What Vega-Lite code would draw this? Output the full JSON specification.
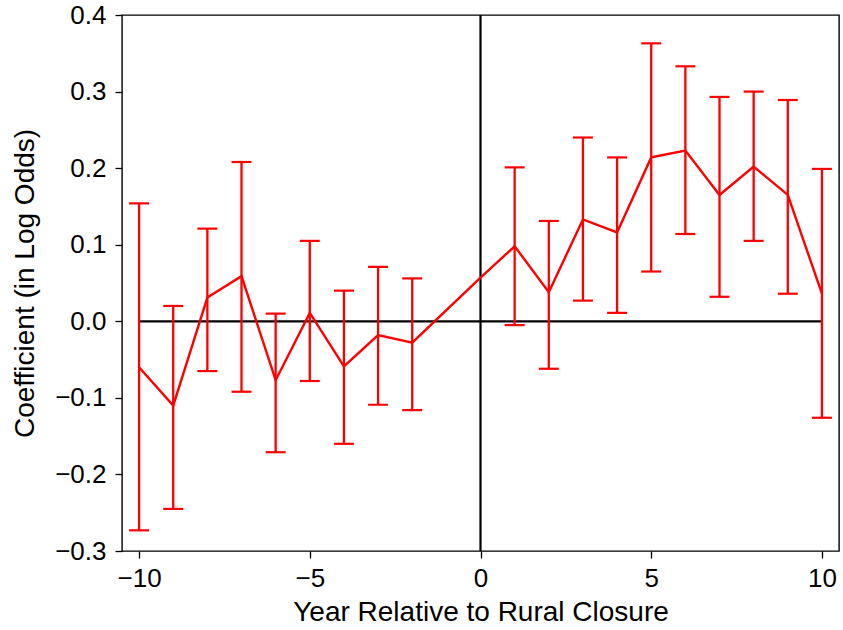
{
  "$schema": "https://vega.github.io/schema/vega-lite/v6.json",
  "width": 717,
  "height": 536,
  "autosize": {"type": "none"},
  "padding": {"left": 122, "top": 15, "right": 4, "bottom": 79},
  "background": "white",
  "config": {
    "font": "Liberation Sans",
    "view": {"stroke": "black", "strokeWidth": 1.4},
    "axis": {
      "grid": false,
      "domain": false,
      "labelFontSize": 26,
      "titleFontSize": 28,
      "titleFontWeight": "normal",
      "labelColor": "black",
      "titleColor": "black",
      "tickColor": "black",
      "tickWidth": 1.3,
      "tickSize": 7
    }
  },
  "datasets": {
    "est": [
      {"year": -10, "coef": -0.060, "lo": -0.273, "hi": 0.154},
      {"year": -9, "coef": -0.110, "lo": -0.245, "hi": 0.020},
      {"year": -8, "coef": 0.031, "lo": -0.065, "hi": 0.121},
      {"year": -7, "coef": 0.059, "lo": -0.092, "hi": 0.208},
      {"year": -6, "coef": -0.077, "lo": -0.171, "hi": 0.010},
      {"year": -5, "coef": 0.011, "lo": -0.078, "hi": 0.105},
      {"year": -4, "coef": -0.059, "lo": -0.160, "hi": 0.040},
      {"year": -3, "coef": -0.018, "lo": -0.109, "hi": 0.071},
      {"year": -2, "coef": -0.028, "lo": -0.116, "hi": 0.056},
      {"year": 0, "coef": 0.057, "lo": null, "hi": null},
      {"year": 1, "coef": 0.098, "lo": -0.005, "hi": 0.201},
      {"year": 2, "coef": 0.038, "lo": -0.062, "hi": 0.131},
      {"year": 3, "coef": 0.133, "lo": 0.027, "hi": 0.240},
      {"year": 4, "coef": 0.116, "lo": 0.011, "hi": 0.214},
      {"year": 5, "coef": 0.214, "lo": 0.065, "hi": 0.363},
      {"year": 6, "coef": 0.223, "lo": 0.114, "hi": 0.333},
      {"year": 7, "coef": 0.165, "lo": 0.032, "hi": 0.293},
      {"year": 8, "coef": 0.202, "lo": 0.105, "hi": 0.300},
      {"year": 9, "coef": 0.165, "lo": 0.036, "hi": 0.289},
      {"year": 10, "coef": 0.036, "lo": -0.126, "hi": 0.199}
    ],
    "zeroline": [{"x1": -10, "x2": 10, "y": 0}],
    "vline": [{"x": 0}]
  },
  "layer": [
    {
      "data": {"name": "vline"},
      "mark": {"type": "rule", "color": "black", "strokeWidth": 2.2},
      "encoding": {
        "x": {"field": "x", "type": "quantitative", "scale": {"domain": [-10.5, 10.5], "nice": false, "zero": false},
              "axis": {"values": [-10, -5, 0, 5, 10], "format": "d", "title": "Year Relative to Rural Closure", "labelPadding": 7, "titleBaseline": "alphabetic", "titleY": 69}}
      }
    },
    {
      "data": {"name": "zeroline"},
      "mark": {"type": "rule", "color": "black", "strokeWidth": 2.2},
      "encoding": {
        "x": {"field": "x1", "type": "quantitative"},
        "x2": {"field": "x2"},
        "y": {"field": "y", "type": "quantitative", "scale": {"domain": [-0.3, 0.4], "nice": false, "zero": false},
              "axis": {"values": [-0.3, -0.2, -0.1, 0, 0.1, 0.2, 0.3, 0.4], "format": ".1f", "title": "Coefficient (in Log Odds)", "labelPadding": 9, "titleBaseline": "alphabetic", "titleX": -89}}
      }
    },
    {
      "data": {"name": "est"},
      "transform": [{"filter": "datum.lo != null"}],
      "mark": {"type": "rule", "color": "#ff0000", "strokeWidth": 2.3},
      "encoding": {
        "x": {"field": "year", "type": "quantitative"},
        "y": {"field": "lo", "type": "quantitative"},
        "y2": {"field": "hi"}
      }
    },
    {
      "data": {"name": "est"},
      "transform": [{"filter": "datum.lo != null"}],
      "mark": {"type": "tick", "color": "#ff0000", "orient": "horizontal", "size": 20, "thickness": 2.2, "opacity": 1},
      "encoding": {
        "x": {"field": "year", "type": "quantitative"},
        "y": {"field": "lo", "type": "quantitative"}
      }
    },
    {
      "data": {"name": "est"},
      "transform": [{"filter": "datum.lo != null"}],
      "mark": {"type": "tick", "color": "#ff0000", "orient": "horizontal", "size": 20, "thickness": 2.2, "opacity": 1},
      "encoding": {
        "x": {"field": "year", "type": "quantitative"},
        "y": {"field": "hi", "type": "quantitative"}
      }
    },
    {
      "data": {"name": "est"},
      "mark": {"type": "line", "color": "#ff0000", "strokeWidth": 2.4},
      "encoding": {
        "x": {"field": "year", "type": "quantitative"},
        "y": {"field": "coef", "type": "quantitative"}
      }
    }
  ]
}
